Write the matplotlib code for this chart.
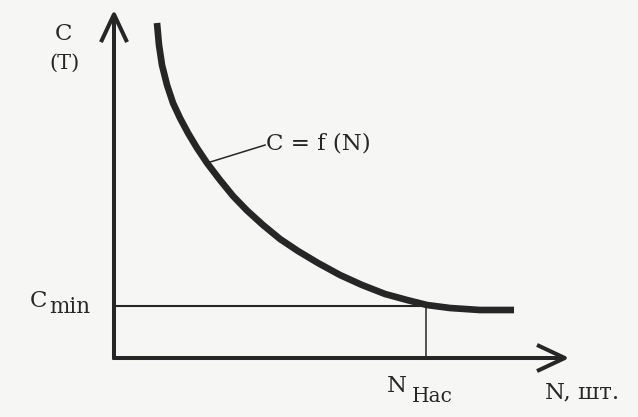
import matplotlib.pyplot as plt

# кривая C = f(N), значения сняты по точкам
N_curve = [1.378, 1.442, 1.538, 1.699, 1.891, 2.115, 2.372, 2.660, 2.981, 3.397, 3.814, 4.263,
           4.776, 5.321, 5.897, 6.538, 7.244, 7.949, 8.686, 9.391, 10.032, 10.769, 11.731, 12.821]
C_curve = [12.885, 12.038, 11.269, 10.500, 9.808, 9.231, 8.654, 8.077, 7.500, 6.846, 6.231, 5.673,
           5.115, 4.577, 4.115, 3.654, 3.192, 2.808, 2.462, 2.231, 2.038, 1.923, 1.846, 1.846]

C_min = 2.0      # минимальные затраты
N_sat = 10.0     # N насыщения
N_axis_end = 14.6
C_axis_end = 13.4

ink = '#262626'
bg = '#f6f6f5'
serif = ['DejaVu Serif']

fig = plt.figure(figsize=(6.38, 4.17), dpi=100, facecolor=bg)
ax = fig.add_axes([0, 0, 1, 1], facecolor=bg)
ax.set_xlim(-3.654, 16.795)
ax.set_ylim(-2.269, 13.769)
ax.axis('off')

# оси со стрелками
arrow = dict(arrowstyle='->,head_length=1.0,head_width=0.47', lw=2.9, color=ink,
             shrinkA=0, shrinkB=0, mutation_scale=20, capstyle='butt')
ax.annotate('', xy=(0, C_axis_end), xytext=(0, -0.05), arrowprops=arrow)
ax.annotate('', xy=(N_axis_end, 0), xytext=(-0.05, 0), arrowprops=arrow)

# уровень Cmin и N насыщения
ax.plot([0, N_sat], [C_min, C_min], color=ink, lw=1.5, solid_capstyle='butt')
ax.plot([N_sat, N_sat], [0, C_min], color=ink, lw=1.1, solid_capstyle='butt')

# сама кривая
ax.plot(N_curve, C_curve, color=ink, lw=4.8, solid_joinstyle='round', solid_capstyle='butt')

# выноска к подписи кривой
ax.plot([N_curve[8], 4.84], [C_curve[8], 8.19], color=ink, lw=1.1)
ax.text(4.86, 8.25, 'C = f (N)', fontsize=16.5, family=serif, color=ink,
        ha='left', va='center')

# подписи осей
ax.text(-1.63, 12.46, 'C', fontsize=16.5, family=serif, color=ink, ha='center', va='center')
ax.text(-1.60, 11.35, '(T)', fontsize=15, family=serif, color=ink, ha='center', va='center')

ax.text(-2.69, C_min - 0.04, 'C', fontsize=16.5, family=serif, color=ink, ha='left', va='baseline')
ax.text(-2.07, C_min - 0.27, 'min', fontsize=15.5, family=serif, color=ink, ha='left', va='baseline')

ax.text(8.75, -1.31, 'N', fontsize=16.5, family=serif, color=ink, ha='left', va='baseline')
ax.text(9.55, -1.69, 'Нас', fontsize=14.5, family=serif, color=ink, ha='left', va='baseline')

ax.text(13.81, -1.54, 'N, шт.', fontsize=16.5, family=serif, color=ink, ha='left', va='baseline')

fig.savefig('out.png', dpi=100, facecolor=bg)
